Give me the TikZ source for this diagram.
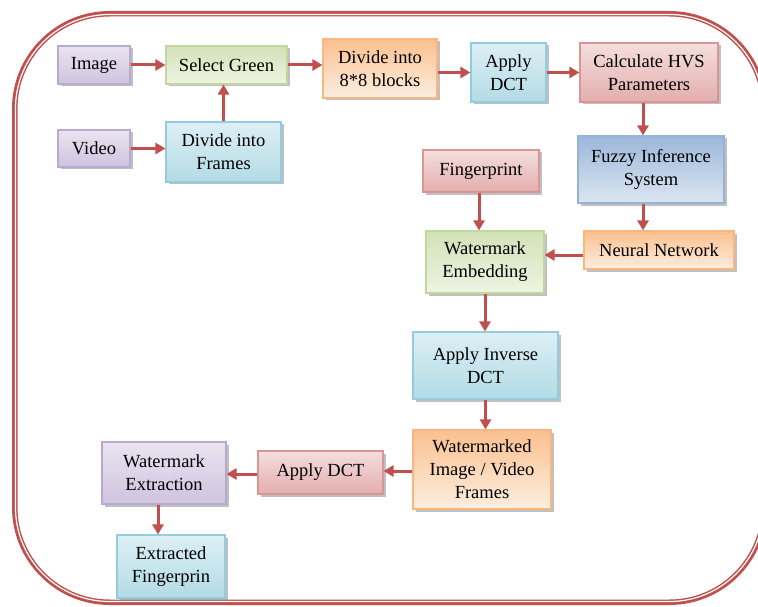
\documentclass[tikz,border=0pt]{standalone}
\usepackage{fontspec}
\setmainfont{Liberation Serif}
\newfontfamily\boxfont{Liberation Serif}
\usetikzlibrary{arrows.meta,shadows}
\definecolor{framered}{HTML}{C0504D}
\definecolor{arrred}{HTML}{C0504D}
\definecolor{puA}{HTML}{EAE4F1}\definecolor{puB}{HTML}{CFC3DE}\definecolor{puD}{HTML}{B9A9CF}
\definecolor{grA}{HTML}{D3E1B8}\definecolor{grB}{HTML}{EEF4E2}\definecolor{grD}{HTML}{C3D69B}
\definecolor{orA}{HTML}{FAC08F}\definecolor{orB}{HTML}{FDEEE0}\definecolor{orD}{HTML}{F9B680}
\definecolor{cyA}{HTML}{DDEFF4}\definecolor{cyB}{HTML}{B2DBE6}\definecolor{cyD}{HTML}{93CDDD}
\definecolor{reA}{HTML}{F4DEDD}\definecolor{reB}{HTML}{E2AEAD}\definecolor{reD}{HTML}{D99694}
\definecolor{blA}{HTML}{9BB7D9}\definecolor{blB}{HTML}{DCE6F2}\definecolor{blD}{HTML}{95B3D7}
\tikzset{
  box/.style={rectangle, line width=1.1pt, align=center, inner sep=2pt,
    font=\boxfont\fontsize{18.5}{23}\selectfont,
    drop shadow={shadow xshift=2.5pt, shadow yshift=-2.5pt, fill=black!45, opacity=0.55}},
  pubox/.style={box, draw=puD, top color=puA, bottom color=puB},
  grbox/.style={box, draw=grD, top color=grA, bottom color=grB},
  orbox/.style={box, draw=orD, top color=orA, bottom color=orB},
  cybox/.style={box, draw=cyD, top color=cyA, bottom color=cyB},
  rebox/.style={box, draw=reD, top color=reA, bottom color=reB},
  blbox/.style={box, draw=blD, top color=blA, bottom color=blB},
  arr/.style={draw=arrred, line width=3pt, -{Triangle[length=10pt,width=11pt]}},
}
\begin{document}
\begin{tikzpicture}[x=1pt,y=-1pt]
\useasboundingbox (0,0) rectangle (758,607);
% frame
\draw[framered, line width=5.5pt, rounded corners=95pt] (14.75,13.75) rectangle (764.25,602.25);
\draw[white, line width=1.2pt, rounded corners=94pt] (15.5,14.5) rectangle (763.5,601.5);
% nodes
\node[pubox, minimum width=72pt, minimum height=38pt] (image) at (94,65) {Image};
\node[grbox, minimum width=121pt, minimum height=38pt] (select) at (226.5,65) {Select Green};
\node[pubox, minimum width=72pt, minimum height=37pt] (video) at (94,148.5) {Video};
\node[cybox, minimum width=115pt, minimum height=60pt] (frames) at (223.5,152) {Divide into\\Frames};
\node[orbox, minimum width=114pt, minimum height=59pt] (blocks) at (380,68.5) {Divide into\\8*8 blocks};
\node[cybox, minimum width=75pt, minimum height=59pt] (dct) at (508.5,72.5) {Apply\\DCT};
\node[rebox, minimum width=138pt, minimum height=59pt] (hvs) at (649,72.5) {Calculate HVS\\Parameters};
\node[blbox, minimum width=146pt, minimum height=67pt] (fuzzy) at (651,169.5) {Fuzzy Inference\\System};
\node[rebox, minimum width=116pt, minimum height=42pt] (finger) at (481,171) {Fingerprint};
\node[grbox, minimum width=118pt, minimum height=62pt] (embed) at (485,262) {Watermark\\Embedding};
\node[orbox, minimum width=150pt, minimum height=38pt] (neural) at (659,250) {Neural Network};
\node[cybox, minimum width=145pt, minimum height=67pt] (idct) at (485.5,365.5) {Apply Inverse\\DCT};
\node[orbox, minimum width=138pt, minimum height=79pt] (wmk) at (482,469.5) {Watermarked\\Image / Video\\Frames};
\node[rebox, minimum width=125pt, minimum height=43pt] (dcttwo) at (320.5,472.5) {Apply DCT};
\node[pubox, minimum width=124pt, minimum height=62pt] (extr) at (164,473) {Watermark\\Extraction};
\node[cybox, minimum width=108pt, minimum height=63pt] (fp) at (171,566.5) {Extracted\\Fingerprin};
% connectors
\draw[arr] (image.east) -- (select.west);
\draw[arr] (video.east) -- (video.east -| frames.west);
\draw[arr] (frames.north) -- (frames.north |- select.south);
\draw[arr] (select.east) -- (select.east -| blocks.west);
\draw[arr] (dct.west -| blocks.east) -- (dct.west);
\draw[arr] (dct.east) -- (hvs.west);
\draw[arr] ([xshift=-6pt]hvs.south) -- ([xshift=-6pt]hvs.south |- fuzzy.north);
\draw[arr] ([xshift=-8pt]fuzzy.south) -- ([xshift=-8pt]fuzzy.south |- neural.north);
\draw[arr] ([xshift=-2pt]finger.south) -- ([xshift=-2pt]finger.south |- embed.north);
\draw[arr] ([yshift=-5pt]neural.west) -- ([yshift=-5pt]neural.west -| embed.east);
\draw[arr] (embed.south) -- (embed.south |- idct.north);
\draw[arr] (idct.south) -- (idct.south |- wmk.north);
\draw[arr] ([yshift=-1.5pt]wmk.west) -- ([yshift=-1.5pt]wmk.west -| dcttwo.east);
\draw[arr] ([yshift=-1.5pt]dcttwo.west) -- ([yshift=-1.5pt]dcttwo.west -| extr.east);
\draw[arr] ([xshift=-6pt]extr.south) -- ([xshift=-6pt]extr.south |- fp.north);
\end{tikzpicture}
\end{document}
